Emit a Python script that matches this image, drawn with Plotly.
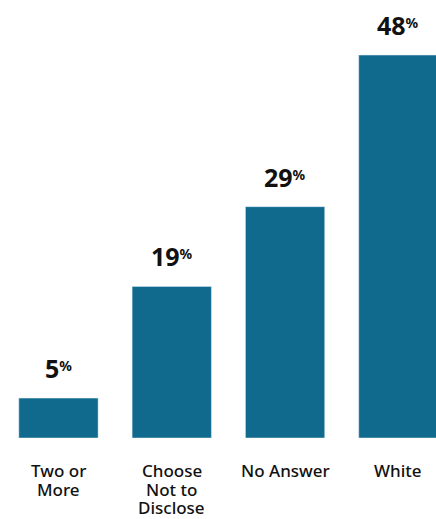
import plotly.graph_objects as go

categories = ["Two or More", "Choose Not to Disclose", "No Answer", "White"]
label_lines = [["Two or", "More"], ["Choose", "Not to", "Disclose"], ["No Answer"], ["White"]]
values = [5, 19, 29, 48]

bar_color = "#0F6A8E"

fig = go.Figure(go.Bar(
    x=categories, y=values, marker_color=bar_color, width=0.7,
    hoverinfo="skip",
))

for c, v in zip(categories, values):
    fig.add_annotation(
        x=c, y=v, xref="x", yref="y", yanchor="bottom", yshift=11,
        text=f"<b>{v}<span style='font-size:14px;baseline-shift:7px'>%</span></b>",
        showarrow=False,
        font=dict(family="Noto Sans", size=25, color="#111111"),
    )

for c, lines in zip(categories, label_lines):
    for i, line in enumerate(lines):
        fig.add_annotation(
            x=c, y=0, xref="x", yref="y", yanchor="top", yshift=-19 - 18.5 * i,
            text=line, showarrow=False,
            font=dict(family="Noto Sans", size=17, color="#111111", weight=500),
        )

fig.update_layout(
    width=436, height=519,
    margin=dict(l=0, r=0, t=0, b=81),
    plot_bgcolor="white", paper_bgcolor="white",
    showlegend=False,
    xaxis=dict(
        range=[-0.516, 3.332],
        showticklabels=False,
        showgrid=False, zeroline=False, showline=False, ticks="",
    ),
    yaxis=dict(range=[0, 54.9], visible=False),
)

fig.write_html(
    "out.html",
    config={"displayModeBar": False},
    post_script="document.body.style.margin='0';document.body.style.overflow='hidden';",
)
